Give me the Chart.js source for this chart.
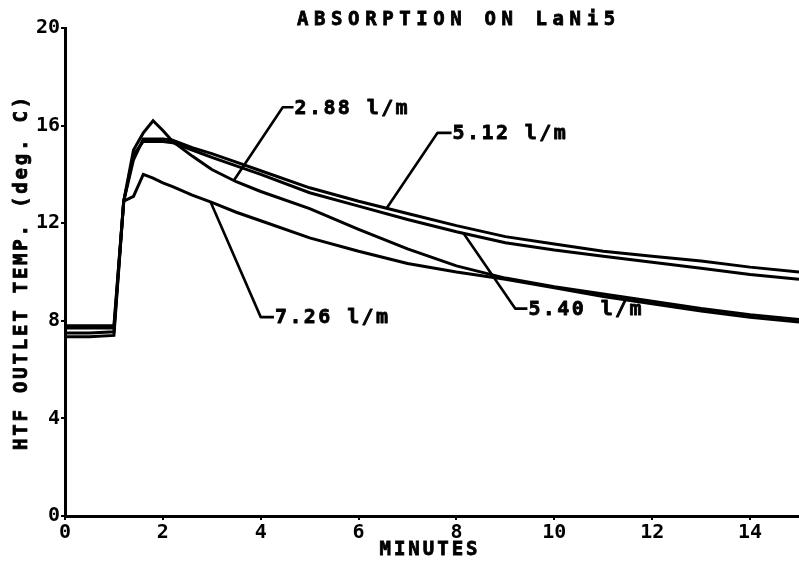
<!DOCTYPE html>
<html>
<head>
<meta charset="utf-8">
<title>Absorption on LaNi5</title>
<script src="https://cdn.jsdelivr.net/npm/chart.js@4"></script>
<style>
  html, body { margin: 0; padding: 0; background: #fff; }
  canvas { display: block; }
</style>
</head>
<body>
<canvas id="myChart" width="799" height="568"></canvas>
<script>
// time axis (minutes) shared by all runs
const minutes = [0, 0.5, 1.0, 1.2, 1.4, 1.6, 1.8, 2.0, 2.2, 2.6, 3.0, 3.5, 4, 5, 6, 7, 8, 9, 10, 11, 12, 13, 14, 15];

// HTF outlet temperature (deg. C), one array per flow rate
const flow288 = [7.7, 7.7, 7.7, 12.9, 15.0, 15.7, 16.2, 15.8, 15.35, 14.75, 14.2, 13.7, 13.3, 12.6, 11.75, 10.95, 10.25, 9.75, 9.4, 9.1, 8.8, 8.5, 8.25, 8.05];
const flow512 = [7.8, 7.8, 7.8, 12.9, 14.6, 15.45, 15.45, 15.45, 15.4, 15.1, 14.85, 14.5, 14.15, 13.45, 12.9, 12.4, 11.9, 11.45, 11.15, 10.85, 10.65, 10.45, 10.2, 10.0];
const flow540 = [7.5, 7.5, 7.55, 12.9, 14.8, 15.35, 15.35, 15.35, 15.3, 15.0, 14.7, 14.35, 14.0, 13.25, 12.7, 12.15, 11.65, 11.2, 10.9, 10.65, 10.4, 10.15, 9.9, 9.7];
const flow726 = [7.35, 7.35, 7.4, 12.9, 13.1, 14.0, 13.85, 13.65, 13.5, 13.15, 12.85, 12.45, 12.1, 11.4, 10.85, 10.35, 10.0, 9.7, 9.35, 9.0, 8.7, 8.4, 8.15, 7.95];

const seriesNames = ['2.88 l/m', '5.12 l/m', '5.40 l/m', '7.26 l/m'];
const seriesValues = [flow288, flow512, flow540, flow726];

const xTicks = [0, 2, 4, 6, 8, 10, 12, 14];
const yTicks = [0, 4, 8, 12, 16, 20];

// callout leader lines, in data units: point on curve -> elbow -> start of text
const callouts = [
  { text: '2.88 l/m', from: [3.45, 13.75], elbow: [4.45, 16.75], end: [4.67, 16.75] },
  { text: '5.12 l/m', from: [6.57, 12.6], elbow: [7.61, 15.7], end: [7.9, 15.7] },
  { text: '5.40 l/m', from: [8.14, 11.6], elbow: [9.2, 8.5], end: [9.45, 8.5] },
  { text: '7.26 l/m', from: [2.98, 12.85], elbow: [4.0, 8.15], end: [4.27, 8.15] }
];

const FONT = '"DejaVu Sans Mono", monospace';

// heavy plotter-pen look: fill then outline the glyphs
function penText(ctx, str, x, y) {
  ctx.fillText(str, x, y);
  ctx.strokeText(str, x, y);
}

// title, axis names and the callouts are drawn here
const textPlugin = {
  id: 'plotterText',
  afterDraw(chart) {
    const ctx = chart.ctx;
    const xs = chart.scales.x;
    const ys = chart.scales.y;
    const area = chart.chartArea;
    ctx.save();
    ctx.fillStyle = '#000';
    ctx.strokeStyle = '#000';
    ctx.lineWidth = 0.8;

    // chart title
    ctx.font = 'bold 19px ' + FONT;
    ctx.letterSpacing = '5.6px';
    ctx.textAlign = 'left';
    ctx.textBaseline = 'alphabetic';
    penText(ctx, 'ABSORPTION ON LaNi5', 297, 25);

    // x axis name
    ctx.letterSpacing = '3px';
    ctx.textAlign = 'center';
    ctx.textBaseline = 'middle';
    penText(ctx, 'MINUTES', 430, 550);

    // y axis name, rotated
    ctx.save();
    ctx.translate(22, (area.top + area.bottom) / 2);
    ctx.rotate(-Math.PI / 2);
    ctx.letterSpacing = '2.8px';
    penText(ctx, 'HTF OUTLET TEMP. (deg. C)', 0, 0);
    ctx.restore();

    // callouts
    ctx.font = 'bold 20px ' + FONT;
    ctx.letterSpacing = '2.4px';
    ctx.textAlign = 'left';
    ctx.textBaseline = 'middle';
    callouts.forEach(c => {
      const p0 = [xs.getPixelForValue(c.from[0]), ys.getPixelForValue(c.from[1])];
      const p1 = [xs.getPixelForValue(c.elbow[0]), ys.getPixelForValue(c.elbow[1])];
      const p2 = [xs.getPixelForValue(c.end[0]), ys.getPixelForValue(c.end[1])];
      ctx.lineWidth = 2.6;
      ctx.lineJoin = 'round';
      ctx.beginPath();
      ctx.moveTo(p0[0], p0[1]);
      ctx.lineTo(p1[0], p1[1]);
      ctx.lineTo(p2[0], p2[1]);
      ctx.stroke();
      ctx.lineWidth = 0.8;
      penText(ctx, c.text, p2[0] + 1, p2[1] + 1);
    });
    ctx.restore();
  }
};

const datasets = seriesNames.map((name, i) => ({
  label: name,
  data: minutes.map((t, j) => ({ x: t, y: seriesValues[i][j] })),
  borderColor: '#000',
  borderWidth: 3,
  pointRadius: 0,
  tension: 0,
  fill: false
}));

const tickFont = { family: FONT, size: 20, weight: 'bold' };

const config = {
  type: 'line',
  data: { datasets: datasets },
  options: {
    responsive: false,
    animation: false,
    layout: { padding: { top: 28, left: 0, right: 0, bottom: 0 } },
    plugins: {
      legend: { display: false },
      title: { display: false },
      tooltip: { enabled: false }
    },
    scales: {
      x: {
        type: 'linear',
        min: 0,
        max: 15,
        border: { color: '#000', width: 3 },
        grid: { drawOnChartArea: false, color: '#000', lineWidth: 2, tickLength: 4 },
        afterBuildTicks: scale => { scale.ticks = xTicks.map(v => ({ value: v })); },
        ticks: { color: '#000', font: tickFont, padding: 1, maxRotation: 0, autoSkip: false },
        afterFit: scale => { scale.height = 52; }
      },
      y: {
        type: 'linear',
        min: 0,
        max: 20,
        border: { color: '#000', width: 3 },
        grid: { drawOnChartArea: false, color: '#000', lineWidth: 2, tickLength: 4 },
        afterBuildTicks: scale => { scale.ticks = yTicks.map(v => ({ value: v })); },
        ticks: { color: '#000', font: tickFont, padding: 1, autoSkip: false },
        afterFit: scale => { scale.width = 65; }
      }
    }
  },
  plugins: [textPlugin]
};

const ctx = document.getElementById('myChart').getContext('2d');
const myChart = new Chart(ctx, config);
</script>
</body>
</html>
